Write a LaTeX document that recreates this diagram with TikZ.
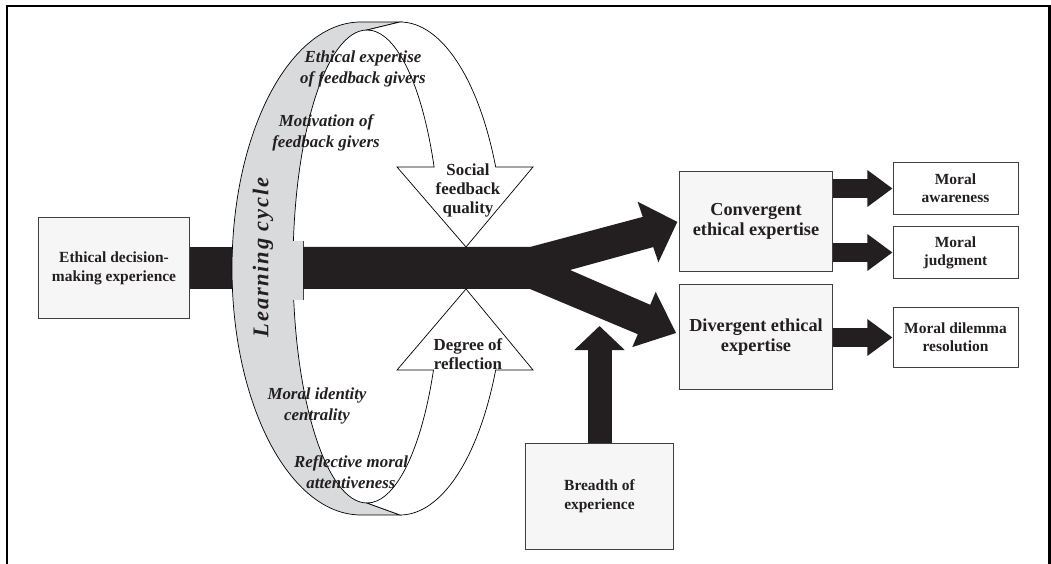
\documentclass[tikz,border=0pt]{standalone}
\usepackage{fontspec}
\setmainfont{Liberation Serif}
\usetikzlibrary{arrows.meta}
\definecolor{barBlack}{HTML}{231F20}
\definecolor{boxGrey}{HTML}{F6F6F6}
\definecolor{lineGrey}{HTML}{404040}
\definecolor{ringGrey}{HTML}{D9DADC}
\tikzset{
  textBase/.style = {align=center, text=barBlack, inner sep=2pt},
  %grey boxes
  boxBig/.style = {textBase, draw=lineGrey, fill=boxGrey, line width=0.7pt,
    font=\fontsize{13}{14}\selectfont\bfseries},
  %white boxes on the right
  boxSmall/.style = {textBase, draw=lineGrey, fill=white, line width=0.7pt,
    minimum width=3.125cm, font=\fontsize{11}{13}\selectfont\bfseries},
  %italic texts on the ring
  ringLabel/.style = {textBase, font=\fontsize{12}{15}\selectfont\bfseries\itshape},
  %texts in the arrow heads
  arrowLabel/.style = {textBase, font=\fontsize{12}{13.5}\selectfont\bfseries},
  ringLine/.style = {draw=black, line width=0.5pt},
  ringBack/.style = {ringLine, fill=ringGrey},
  ringFront/.style = {ringLine, fill=white},
  mainBar/.style = {draw=barBlack, line width=1.05cm},
  smallArrow/.style = {draw=barBlack, line width=0.475cm,
    -{Triangle[length=0.625cm, width=0.875cm]}},
  upArrow/.style = {draw=barBlack, line width=0.6cm,
    -{Triangle[length=0.6cm, width=1.225cm]}}
}

\begin{document}
\begin{tikzpicture}[x=0.025cm, y=0.025cm]
\useasboundingbox (0,0) rectangle (1051,564);
% frame, open at the bottom
\draw[line width=0.07cm] (7,0) -- (7,558) -- (1049.5,558) -- (1049.5,0);

\node[boxBig, font=\fontsize{11}{13.5}\selectfont\bfseries,
  minimum width=3.75cm, minimum height=2.5cm] (decision) at (114,296)
  {Ethical decision-\\making experience};
\node[boxBig, minimum width=3.8cm, minimum height=2.475cm] (conv) at (756,342.5)
  {Convergent\\ethical expertise};
\node[boxBig, minimum width=3.8cm, minimum height=2.6cm] (div) at (756,227)
  {Divergent ethical\\expertise};
\node[boxSmall, minimum height=1.275cm] (awar) at (955.5,375.5) {Moral\\awareness};
\node[boxSmall, minimum height=1.275cm] (judg) at (955.5,311.5) {Moral\\judgment};
\node[boxSmall, minimum height=1.475cm] (dil) at (955.5,226.5) {Moral dilemma\\resolution};
\node[boxBig, font=\fontsize{11}{13.5}\selectfont\bfseries,
  minimum width=3.675cm, minimum height=2.625cm] (breadth) at (599.5,67.5)
  {Breadth of\\experience};

% bar behind the ring
\draw[mainBar] (decision.east) -- ++(62,0);

% grey inner side of the ring
\filldraw[ringBack] (400,542) -- (361,542)
  arc[start angle=90, end angle=270, x radius=129, y radius=246.5]
  -- (400,49) -- (367,61)
  arc[start angle=270, end angle=90, x radius=74, y radius=236.5] -- cycle;
\fill[ringGrey] (288,264) rectangle (303,323);
\draw[ringLine, draw=lineGrey] (303,264) -- (303,323);

% front of the ring with the two heads
\filldraw[ringFront] (400,542)
  arc[start angle=90, end angle=24.32, x radius=105, y radius=246.5]
  -- (533,397) -- (466,317) -- (397,397) -- (434.1,397)
  arc[start angle=24.88, end angle=90, x radius=74, y radius=236.5] -- cycle;
\filldraw[ringFront] (400,49)
  arc[start angle=-90, end angle=-24.32, x radius=105, y radius=246.5]
  -- (533,194) -- (466,275) -- (397,194) -- (433.5,194)
  arc[start angle=-25.95, end angle=-90, x radius=74, y radius=236.5] -- cycle;

% bar splitting into two arrows
\fill[barBlack] (303,317) -- (530,317) -- (642.8,347.1) -- (637.6,362.3)
  -- (677.3,342.1) -- (658.4,301.7) -- (653.2,316.9) -- (570,294)
  -- (650.2,259.2) -- (655.7,272.1) -- (676,231) -- (632.3,216.9)
  -- (637.8,229.8) -- (530,275) -- (303,275) -- cycle;

\draw[smallArrow] (conv.east |- awar.west) -- (awar.west);
\draw[smallArrow] (conv.east |- judg.west) -- (judg.west);
\draw[smallArrow] (div.east |- dil.west) -- (dil.west);
\coordinate (breadthTip) at (599.5,238);
\draw[upArrow] (breadth.north) -- (breadthTip);

% labels on the ring
\node[textBase, rotate=90,
  font=\fontsize{16}{16}\selectfont\bfseries\itshape\addfontfeature{LetterSpace=8}]
  (cycle) at (263,306.5) {Learning cycle};
\node[ringLabel] (expertise) at (363,495) {Ethical expertise\\of feedback givers};
\node[ringLabel] (motivation) at (326,431) {Motivation of\\feedback givers};
\node[ringLabel] (identity) at (317,158) {Moral identity\\centrality};
\node[ringLabel] (attentive) at (351,92) {Reflective moral\\attentiveness};
\node[arrowLabel] (social) at (468,374) {Social\\feedback\\quality};
\node[arrowLabel] (degree) at (468,210) {Degree of\\reflection};
\end{tikzpicture}
\end{document}
